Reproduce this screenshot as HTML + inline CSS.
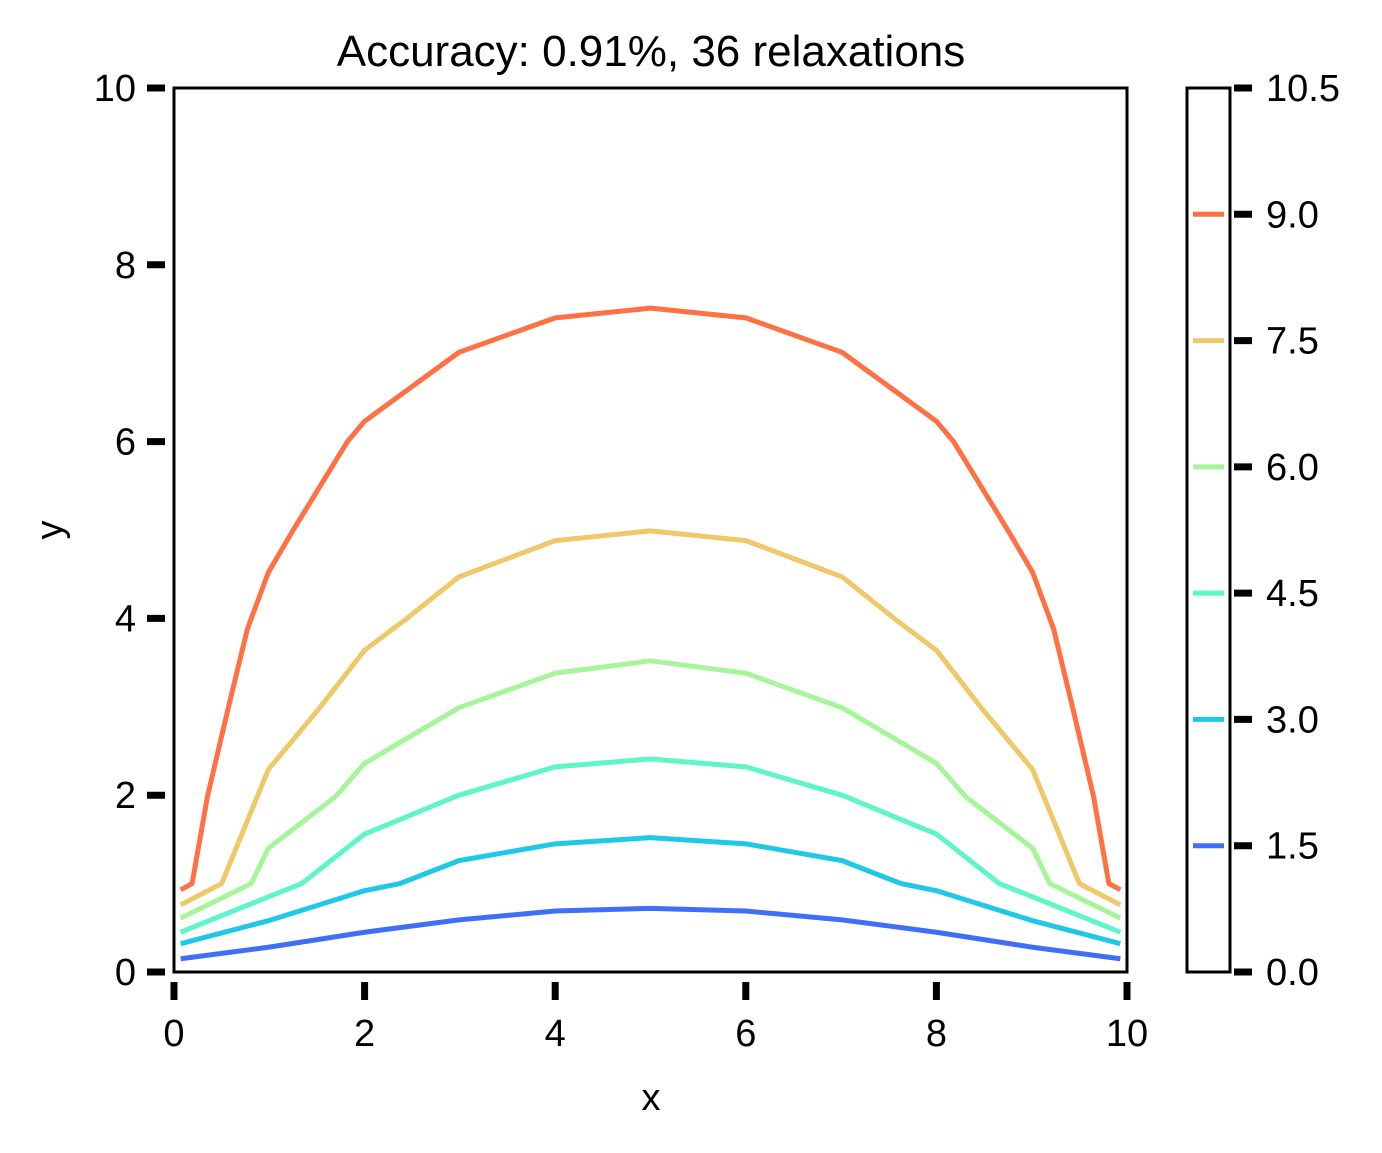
<!DOCTYPE html>
<html><head><meta charset="utf-8"><style>
html,body{margin:0;padding:0;background:#fff;}
svg text{font-family:"Liberation Sans",sans-serif;fill:#000;}
</style></head><body>
<svg id="chart" width="1382" height="1148" viewBox="0 0 1382 1148" xmlns="http://www.w3.org/2000/svg">
<text x="651" y="66" font-size="44" text-anchor="middle">Accuracy: 0.91%, 36 relaxations</text>
<g id="plot"></g>
<rect x="174" y="88" width="953" height="884" fill="none" stroke="#000" stroke-width="3"/>
<g id="xt"></g>
<g id="yt"></g>
<text x="651" y="1110" font-size="38" text-anchor="middle">x</text>
<text x="62" y="530" font-size="38" text-anchor="middle" transform="rotate(-90 62 530)">y</text>
<rect x="1187" y="88" width="43" height="884" fill="none" stroke="#000" stroke-width="3"/>
<g id="cb"></g>
</svg>
<script>
const levels=[1.5,3.0,4.5,6.0,7.5,9.0];
const colors=["#3f6ef7","#1ec8e6","#5ef5c8","#a6f59a","#f0c86a","#ff7043"];
const halfX=[
 [0.07,0.99,2.0,2.99,4.0,5.0],
 [0.07,0.99,2.0,2.37,2.99,4.0,5.0],
 [0.07,0.99,1.34,2.0,2.99,4.0,5.0],
 [0.07,0.81,0.99,1.69,2.0,2.99,4.0,5.0],
 [0.07,0.5,0.99,1.53,2.0,2.42,2.99,4.0,5.0],
 [0.07,0.19,0.35,0.57,0.77,0.99,1.24,1.82,2.0,2.99,4.0,5.0]];
const halfY=[
 [0.15,0.28,0.45,0.59,0.69,0.72],
 [0.32,0.58,0.92,1.0,1.26,1.45,1.52],
 [0.45,0.85,1.0,1.56,2.0,2.32,2.41],
 [0.61,1.0,1.40,1.98,2.36,2.99,3.38,3.52],
 [0.76,1.0,2.29,2.99,3.64,3.98,4.47,4.88,4.99],
 [0.93,1.0,1.98,2.99,3.88,4.52,4.98,6.0,6.23,7.01,7.40,7.51]];
const xTicks=[0,2,4,6,8,10];
const yTicks=[0,2,4,6,8,10];
const cbTicks=[0.0,1.5,3.0,4.5,6.0,7.5,9.0,10.5];
const NS="http://www.w3.org/2000/svg";
const sx=v=>174+v*95.3, sy=v=>972-v*88.4, sc=v=>972-v*(884/10.5);
function mk(t,a,p){const e=document.createElementNS(NS,t);for(const k in a)e.setAttribute(k,a[k]);p.appendChild(e);return e;}
const plot=document.getElementById('plot');
levels.forEach((lv,i)=>{
 const xs=halfX[i],ys=halfY[i];let pts=[];
 for(let j=0;j<xs.length;j++)pts.push([xs[j],ys[j]]);
 for(let j=xs.length-2;j>=0;j--)pts.push([10-xs[j],ys[j]]);
 const pl=mk('polyline',{points:pts.map(p=>sx(p[0])+','+sy(p[1])).join(' '),fill:'none',stroke:colors[i],'stroke-width':5,'stroke-linejoin':'round'},plot);
 
 
});
const xt=document.getElementById('xt');
xTicks.forEach(v=>{
 const l=mk('line',{x1:sx(v),x2:sx(v),y1:982,y2:1000,stroke:'#000','stroke-width':7},xt);
 
 const t=mk('text',{x:sx(v),y:1046,'font-size':38,'text-anchor':'middle'},xt);t.textContent=v;
 
});
const yt=document.getElementById('yt');
yTicks.forEach(v=>{
 const l=mk('line',{x1:147,x2:165,y1:sy(v),y2:sy(v),stroke:'#000','stroke-width':7},yt);
 
 const t=mk('text',{x:136,y:sy(v)+13,'font-size':38,'text-anchor':'end'},yt);t.textContent=v;
 
});
const cb=document.getElementById('cb');
cbTicks.forEach(v=>{
 const l=mk('line',{x1:1234,x2:1252,y1:sc(v),y2:sc(v),stroke:'#000','stroke-width':7},cb);
 
 const t=mk('text',{x:1266,y:sc(v)+13,'font-size':38},cb);t.textContent=v.toFixed(1);
 
});
levels.forEach((lv,i)=>{
 const l=mk('line',{x1:1193,x2:1224,y1:sc(lv),y2:sc(lv),stroke:colors[i],'stroke-width':5},cb);
 
});
</script>
</body></html>
